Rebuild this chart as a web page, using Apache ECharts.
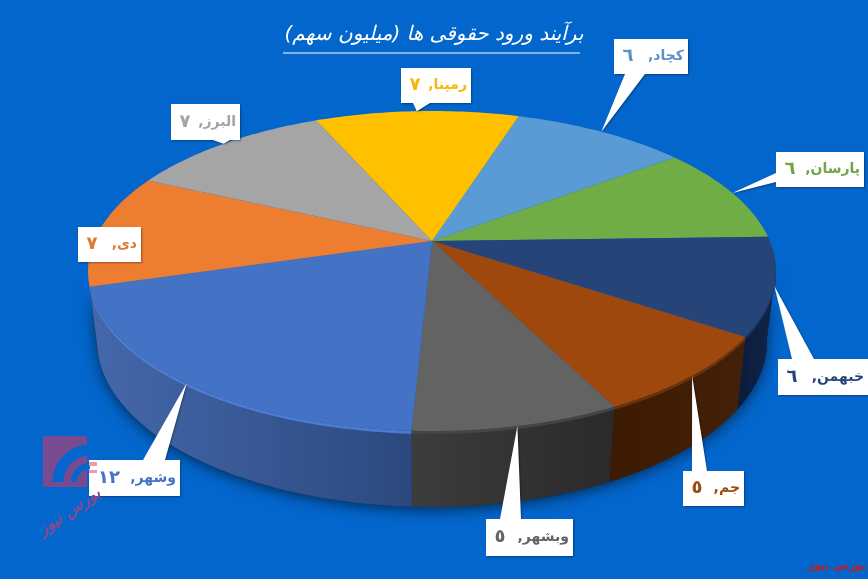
<!DOCTYPE html>
<html><head><meta charset="utf-8">
<style>html,body{margin:0;padding:0;background:#0366cc}#c{width:868px;height:579px}</style>
<script src="https://cdn.jsdelivr.net/npm/echarts@6/dist/echarts.min.js"></script>
</head><body><div id="c"></div>
<script>
// ---- data ----
const categories = ['کچاد','پارسان','خبهمن','جم','وبشهر','وشهر','دی','البرز','رمپنا'];
const values = [6,6,6,5,5,12,7,7,7];
const titleText = 'برآیند ورود حقوقی ها (میلیون سهم)';
const creditText = 'بورس نیوز';

// ---- styles ----
const topColors = ['#5b9bd5','#70ad47','#264478','#9e480e','#636363','#4472c4','#ed7d31','#a5a5a5','#ffc000'];
const textColors = ['#5b93c6','#6fa548','#264478','#9e480e','#636363','#4472c4','#e07a30','#a5a5a5','#f5b90a'];
const wallLeft  = ['#2b4f72','#35562a','#0c1d3c','#3c1b02','#3c3c3c','#4568ab','#6e3a16','#555','#7a5c00'];
const wallRight = ['#2b4f72','#35562a','#12264c','#432108','#2a2a2a','#2c487e','#6e3a16','#555','#7a5c00'];
const rimColors = ['#5b9bd5','#70ad47','#1a3158','#6f350b','#474747','#4f80dc','#ed7d31','#a5a5a5','#ffc000'];
const labelBoxes = [[614,39,74,35],[776,152,88,35],[778,359,90,36],[683,471,61,35],[486,519,87,37],[89,460,91,36],[78,227,63,35],[171,104,69,36],[401,68,70,35]];
// tail base on box: side, start, end
const tailBases = [['b',625,645],['l',173,182],['t',792,814],['t',692,707],['t',500,521],['t',143,165],null,['b',213,230],['b',413,430]];

// ---- projection of a circular disc in perspective ----
const topFace = {cx:432, cy:271, rx:344, ry:160};
const baseFace = {cx:432, cy:341, rx:335, ry:166};
const persp = -0.1875, firstAngle = 17.6, wallFrom = 100, wallTo = 254, rimDepth = 3;
const total = values.reduce((a,b)=>a+b,0);
const starts = []; values.reduce((a,v,i)=>{starts[i]=a;return a+v;},0);
const angleOf = v => firstAngle + v/total*360;
function project(f, deg, r){
  const t = deg*Math.PI/180, u = r*Math.sin(t), v = -r*Math.cos(t);
  const d = 1 + persp*v;
  return [f.cx + f.rx*u*Math.sqrt(1-persp*persp)/d, f.cy + f.ry*(v+persp)/d];
}
function arc(f, a0, a1){
  const pts = [], n = Math.max(2, Math.ceil(Math.abs(a1-a0)));
  for(let k=0;k<=n;k++) pts.push(project(f, a0+(a1-a0)*k/n, 1));
  return pts;
}
const toDigits = n => String(n).replace(/\d/g, d => '٠١٢٣٤٥٦٧٨٩'[d]);
const seriesData = categories.map((c,i)=>({name:c, value:values[i]}));

function renderWall(params, api){
  const i = params.dataIndex, children = [];
  if(i===0){
    children.push({type:'polygon', shape:{points:arc(baseFace,wallFrom,wallTo).concat(arc(topFace,wallTo,wallFrom))},
      style:{fill:'#0d2a55', shadowBlur:14, shadowColor:'rgba(0,0,0,0.55)', shadowOffsetY:3}});
  }
  const a0 = Math.max(angleOf(starts[i]), wallFrom), a1 = Math.min(angleOf(starts[i]+api.value(0)), wallTo);
  if(a1 > a0){
    const up = arc(topFace,a0,a1), low = arc(baseFace,a0,a1);
    const pL = up[0][0] < up[up.length-1][0] ? up[0] : up[up.length-1];
    const pR = up[0][0] < up[up.length-1][0] ? up[up.length-1] : up[0];
    children.push({type:'polygon', shape:{points:up.concat(low.reverse())},
      style:{fill:new echarts.graphic.LinearGradient(pL[0],0,pR[0],0,[{offset:0,color:wallLeft[i]},{offset:1,color:wallRight[i]}],true)}});
    const band = up.concat(up.slice().reverse().map(p=>[p[0],p[1]+rimDepth]));
    children.push({type:'polygon', shape:{points:band}, style:{fill:rimColors[i], opacity:0.9}});
  }
  return {type:'group', children};
}
function renderTop(params, api){
  const i = params.dataIndex;
  const a0 = angleOf(starts[i]), a1 = angleOf(starts[i]+api.value(0));
  return {type:'polygon', shape:{points:[project(topFace,0,0)].concat(arc(topFace,a0,a1))}, style:{fill:topColors[i]}};
}
function renderLabel(params, api){
  const i = params.dataIndex, v = api.value(0);
  const [x,y,w,h] = labelBoxes[i], b = tailBases[i];
  const tip = project(topFace, angleOf(starts[i]+v/2), 1);
  let pts = [[x,y],[x+w,y],[x+w,y+h],[x,y+h]];
  if(b){
    if(b[0]==='b') pts = [[x,y],[x+w,y],[x+w,y+h],[b[2],y+h],tip,[b[1],y+h],[x,y+h]];
    if(b[0]==='t') pts = [[x,y],[b[1],y],tip,[b[2],y],[x+w,y],[x+w,y+h],[x,y+h]];
    if(b[0]==='l') pts = [[x,y],[x+w,y],[x+w,y+h],[x,y+h],[x,b[2]],tip,[x,b[1]]];
  }
  return {type:'group', children:[
    {type:'polygon', shape:{points:pts}, style:{fill:'#fff', shadowBlur:2, shadowColor:'rgba(0,0,0,0.35)', shadowOffsetX:1, shadowOffsetY:1}},
    {type:'text', style:{text:categories[i]+',\u200f', x:x+w-4, y:y+h/2, align:'right', verticalAlign:'middle',
      fill:textColors[i], font:'bold 14px "DejaVu Sans"'}},
    {type:'text', style:{text:toDigits(v), x:x+(v>9?20:14), y:y+h/2, align:'center', verticalAlign:'middle',
      fill:textColors[i], font:'bold 18px "DejaVu Sans"'}}
  ]};
}

const chart = echarts.init(document.getElementById('c'), null, {renderer:'canvas'});
chart.setOption({
  animation:false,
  backgroundColor:'#0366cc',
  title:{text:titleText, left:429, top:20, textAlign:'center',
    textStyle:{color:'#fff', fontFamily:'DejaVu Sans', fontStyle:'italic', fontWeight:'normal', fontSize:20}},
  graphic:[
    {type:'line', z:50, shape:{x1:283,y1:53,x2:580,y2:53}, style:{stroke:'#fff', lineWidth:1}},
    {type:'rect', z:60, shape:{x:43,y:436,width:44,height:51}, style:{fill:'#7e4a8c', opacity:0.95}},
    {type:'arc', z:61, shape:{cx:90,cy:482,r:32,startAngle:Math.PI*1.0,endAngle:Math.PI*1.5}, style:{stroke:'#0366cc',fill:null,lineWidth:11}},
    {type:'arc', z:61, shape:{cx:90,cy:482,r:16,startAngle:Math.PI*1.0,endAngle:Math.PI*1.5}, style:{stroke:'#0366cc',fill:null,lineWidth:6}},
    {type:'rect', z:62, shape:{x:89,y:462,width:8,height:4}, style:{fill:'#f09aa8'}},
    {type:'rect', z:62, shape:{x:89,y:470,width:8,height:3}, style:{fill:'#f09aa8'}},
    {type:'text', z:62, x:70, y:512, rotation:0.6, style:{text:creditText, x:0, y:0, align:'center', verticalAlign:'middle', fill:'#8a4a8c', font:'italic bold 16px "DejaVu Sans"'}},
    {type:'text', z:62, style:{text:creditText, x:837, y:566, align:'center', verticalAlign:'middle', fill:'#c81818', font:'bold 11px "DejaVu Sans"'}}
  ],
  series:[
    {type:'custom', coordinateSystem:'none', renderItem:renderWall, data:seriesData, silent:true, z:1, clip:false},
    {type:'custom', coordinateSystem:'none', renderItem:renderTop, data:seriesData, silent:true, z:2, clip:false},
    {type:'custom', coordinateSystem:'none', renderItem:renderLabel, data:seriesData, silent:true, z:3, clip:false}
  ]
});
</script></body></html>
